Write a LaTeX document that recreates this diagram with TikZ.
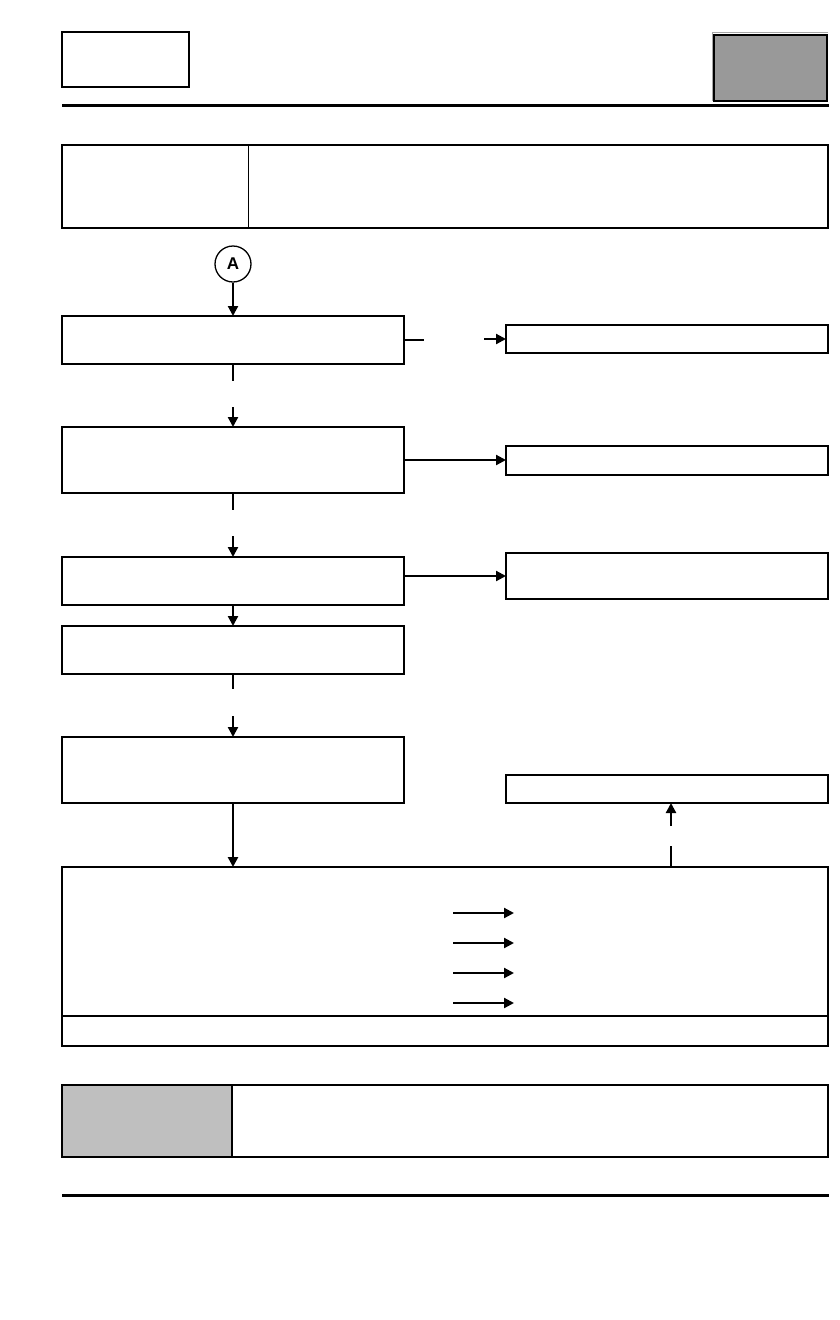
\documentclass[tikz,border=0pt]{standalone}
\usepackage{fontspec}
\setsansfont{Liberation Sans}
\usetikzlibrary{arrows.meta}
\tikzset{
  fbox/.style={draw, line width=2pt, inner sep=0pt, outer sep=0pt, minimum width=342pt},
  rbox/.style={draw, line width=2pt, inner sep=0pt, outer sep=0pt, minimum width=322pt},
  thinbox/.style={draw, line width=1.1pt, inner sep=0pt, outer sep=0pt},
  arr/.style={line width=2.2pt, -{Triangle[length=10pt,width=10pt]}},
  stub/.style={line width=2.2pt},
  rule/.style={line width=3.3pt},
}
\begin{document}
\begin{tikzpicture}[x=1pt,y=-1pt]
\useasboundingbox (0,0) rectangle (840,1320);
% header
\node[thinbox, minimum width=127pt, minimum height=55pt] (logo) at (125.5,59.5) {};
\draw[gray!70, line width=1pt] (712,101) -- (712,32) -- (828,32);
\node[draw, line width=2pt, fill=black!40, inner sep=0pt, outer sep=0pt, minimum width=113pt, minimum height=66pt] (tab) at (770,67.5) {};
\coordinate (r1a) at (62,105.5);
\coordinate (r1b) at (829,105.5);
\draw[rule] (r1a) -- (r1b);
% title box
\node[thinbox, minimum width=186.5pt, minimum height=83pt] (hdrL) at (155.25,186.5) {};
\node[thinbox, minimum width=579.5pt, minimum height=83pt] (hdrR) at (538.25,186.5) {};
\draw[line width=2pt] (hdrL.north west) -- (hdrR.north east);
\draw[line width=2pt] (hdrL.south west) -- (hdrR.south east);
% connector A
\node[draw, circle, line width=1.3pt, minimum size=36pt, inner sep=0pt, font=\sffamily\bfseries\fontsize{17}{17}\selectfont] (A) at (233,264) {A};
% flow boxes
\node[fbox, minimum height=48pt] (b1) at (233,340) {};
\node[fbox, minimum height=66pt] (b2) at (233,460) {};
\node[fbox, minimum height=48pt] (b3) at (233,581) {};
\node[fbox, minimum height=48pt] (b4) at (233,650) {};
\node[fbox, minimum height=66pt] (b5) at (233,770) {};
\node[rbox, minimum height=28pt] (r1) at (667,339) {};
\node[rbox, minimum height=29pt] (r2) at (667,460.5) {};
\node[rbox, minimum height=46pt] (r3) at (667,576) {};
\node[rbox, minimum height=28pt] (r4) at (667,789) {};
% big box
\node[thinbox, minimum width=766pt, minimum height=149pt] (big) at (445,941.5) {};
\node[thinbox, minimum width=766pt, minimum height=30pt] (bigfoot) at (445,1031) {};
\draw[line width=2pt] (big.north west) -- (big.north east);
% connectors
\draw[arr] (A.south) -- (b1.north);
\coordinate (s1) at (423.5,340);
\coordinate (s1b) at (484,339);
\draw[stub] (b1.east) -- (s1);
\draw[arr] (s1b) -- (r1.west);
\coordinate (d1) at (233,381);
\coordinate (d1b) at (233,407);
\draw[stub] (b1.south) -- (d1);
\draw[arr] (d1b) -- (b2.north);
\draw[arr] (b2.east) -- (b2.east -| r2.west);
\coordinate (d2) at (233,510);
\coordinate (d2b) at (233,536);
\draw[stub] (b2.south) -- (d2);
\draw[arr] (d2b) -- (b3.north);
\draw[arr] (r3.west -| b3.east) -- (r3.west);
\draw[arr] (b3.south) -- (b4.north);
\coordinate (d4) at (233,689);
\coordinate (d4b) at (233,716);
\draw[stub] (b4.south) -- (d4);
\draw[arr] (d4b) -- (b5.north);
\draw[arr, line width=2.6pt] (b5.south) -- (b5.south |- big.north);
\coordinate (u1) at (671,846);
\coordinate (u1b) at (671,826);
\draw[stub] (u1 |- big.north) -- (u1);
\draw[arr] (u1b) -- (u1b |- r4.south);
% arrows inside big box
\foreach \y/\n in {913/a,943/b,973/c,1003/d}{
  \coordinate (p\n) at (453,\y);
  \coordinate (q\n) at (514,\y);
  \draw[arr] (p\n) -- (q\n);
}
% note box
\node[thinbox, line width=1.3pt, fill=black!25, minimum width=170pt, minimum height=72pt] (noteL) at (147,1121) {};
\node[thinbox, line width=1.3pt, minimum width=596pt, minimum height=72pt] (noteR) at (530,1121) {};
\coordinate (r2a) at (62,1195.5);
\coordinate (r2b) at (829,1195.5);
\draw[rule] (r2a) -- (r2b);
\end{tikzpicture}
\end{document}
